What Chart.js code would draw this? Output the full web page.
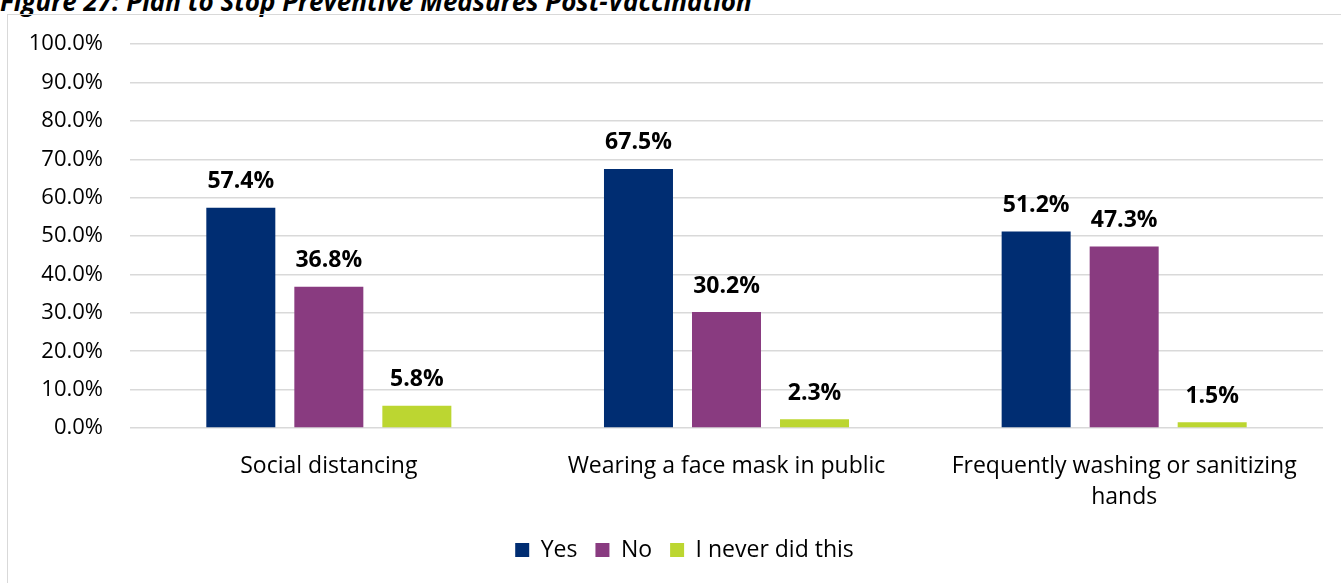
<!DOCTYPE html>
<html>
<head>
<meta charset="utf-8">
<script src="https://cdn.jsdelivr.net/npm/chart.js@4/dist/chart.umd.min.js"></script>
<style>
  body { margin: 0; background: #fff; overflow: hidden; width: 1341px; height: 583px; position: relative; }
  #fig-title {
    position: absolute; left: 0; top: -12px; margin: 0;
    font: italic bold 26px "Open Sans", sans-serif; line-height: 26px;
    color: #000; white-space: nowrap;
  }
  #frame {
    position: absolute; left: 7px; top: 14px; width: 1345px; height: 580px;
    border: 1px solid #d9d9d9; box-sizing: border-box;
  }
  #wrap { position: absolute; left: 0; top: 0; width: 1333px; height: 568px; }
</style>
</head>
<body>
<div id="fig-title">Figure 27: Plan to Stop Preventive Measures Post-Vaccination</div>
<div id="frame">
  <div id="wrap"><canvas id="myChart"></canvas></div>
</div>
<script>
// measures asked about
const categories = [
  'Social distancing',
  'Wearing a face mask in public',
  ['Frequently washing or sanitizing', 'hands']
];

// share of respondents (%)
const yesValues = [57.4, 67.5, 51.2];
const noValues = [36.8, 30.2, 47.3];
const neverValues = [5.8, 2.3, 1.5];

const yTicks = [0, 10, 20, 30, 40, 50, 60, 70, 80, 90, 100];

const FONT = '"Open Sans", sans-serif';

// value labels above each bar
const barLabels = {
  id: 'barLabels',
  afterDatasetsDraw(chart) {
    const ctx = chart.ctx;
    ctx.save();
    ctx.font = 'bold 23px ' + FONT;
    ctx.fillStyle = '#000';
    ctx.textAlign = 'center';
    ctx.textBaseline = 'alphabetic';
    chart.data.datasets.forEach((ds, i) => {
      chart.getDatasetMeta(i).data.forEach((bar, j) => {
        ctx.fillText(ds.data[j].toFixed(1) + '%', bar.x, bar.y - 19.5);
      });
    });
    ctx.restore();
  }
};

// legend sits a bit right of the canvas centre
const legendShift = {
  id: 'legendShift',
  afterLayout(chart) {
    chart.legend.left += 19;
    chart.legend.right += 19;
  }
};

const ctx = document.getElementById('myChart');

new Chart(ctx, {
  type: 'bar',
  data: {
    labels: categories,
    datasets: [
      { label: 'Yes', data: yesValues, backgroundColor: '#002d72' },
      { label: 'No', data: noValues, backgroundColor: '#893b80' },
      { label: 'I never did this', data: neverValues, backgroundColor: '#bcd631' }
    ]
  },
  options: {
    responsive: true,
    maintainAspectRatio: false,
    animation: false,
    categoryPercentage: 0.664,
    barPercentage: 0.784,
    layout: { padding: { top: 29, right: 18, bottom: 11.5, left: 0 } },
    scales: {
      x: {
        grid: { display: false },
        border: { display: false },
        ticks: {
          color: '#000',
          font: { family: FONT, size: 23, lineHeight: 1.35 },
          padding: 15,
          maxRotation: 0
        },
        afterFit(scale) { scale.height = 92.5; }
      },
      y: {
        min: 0,
        max: 100,
        afterBuildTicks(scale) { scale.ticks = yTicks.map(v => ({ value: v })); },
        grid: { color: '#d9d9d9', lineWidth: 1.5, drawTicks: false },
        border: { display: false },
        ticks: {
          color: '#000',
          // small lineHeight keeps the label height from pushing the plot down
          font: { family: FONT, size: 22, lineHeight: 0.2 },
          padding: 27,
          callback: v => v.toFixed(1) + '%'
        },
        afterFit(scale) { scale.width = 122; }
      }
    },
    plugins: {
      legend: {
        position: 'bottom',
        labels: {
          color: '#000',
          font: { family: FONT, size: 23 },
          boxWidth: 14,
          boxHeight: 14,
          padding: 18
        }
      },
      tooltip: { enabled: false }
    }
  },
  plugins: [barLabels, legendShift]
});
</script>
</body>
</html>
